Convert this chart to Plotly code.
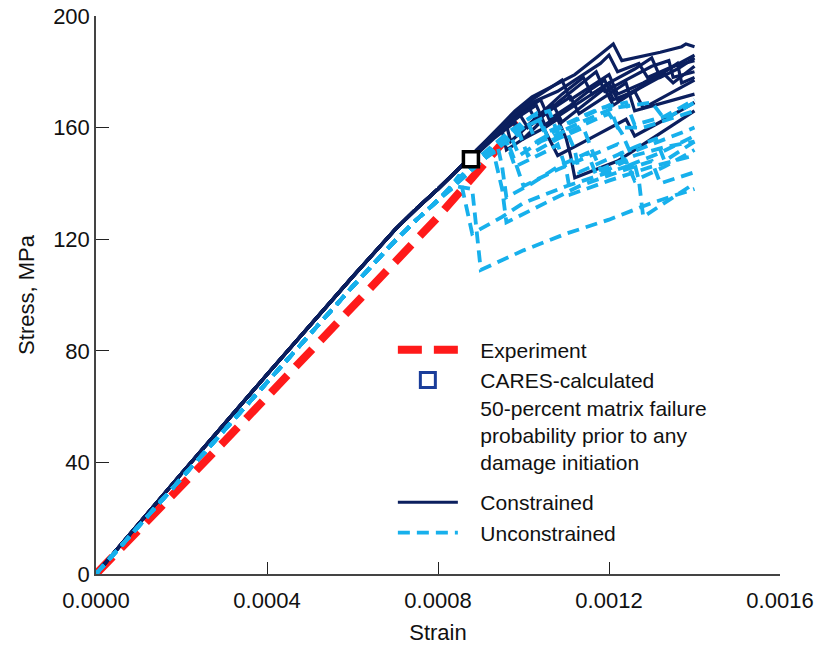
import plotly.graph_objects as go

# ---- Experiment (measured stress-strain response) ----
exp_strain = [0.0, 0.0001, 0.0002, 0.0003, 0.0004, 0.0005, 0.0006, 0.0007, 0.0008, 0.00088, 0.00095, 0.00099]
exp_stress = [0.0, 15.5, 31.5, 47.5, 63.5, 79.5, 95.5, 111.5, 128.0, 142.0, 154.0, 161.5]

# ---- CARES 50-percent matrix failure probability point ----
cares_strain = [0.000877]
cares_stress = [148.7]

# ---- Constrained simulations: shared elastic part, then individual branches ----
con_trunk_strain = [0.0, 0.0002, 0.0004, 0.0006, 0.0007, 0.00075, 0.0008, 0.00085]
con_trunk_stress = [0.0, 36.0, 71.5, 106.5, 123.5, 131.0, 138.0, 145.5]

con_branch_strain = [
    [0.00088, 0.00093, 0.00098, 0.00102, 0.00107, 0.00112, 0.00117, 0.00121, 0.00123, 0.00126, 0.00132, 0.00137, 0.00138, 0.0014],
    [0.00088, 0.00093, 0.00097, 0.00099, 0.00104, 0.00109, 0.00114, 0.00116, 0.0012, 0.00126, 0.0013, 0.00132, 0.00136, 0.0014],
    [0.00088, 0.00092, 0.00096, 0.00097, 0.00102, 0.00107, 0.00109, 0.00114, 0.00119, 0.00121, 0.00127, 0.00133, 0.00135, 0.0014],
    [0.00088, 0.00093, 0.00098, 0.001, 0.00105, 0.00108, 0.0011, 0.00111, 0.00112, 0.00117, 0.00122, 0.00128, 0.00134, 0.0014],
    [0.00089, 0.00095, 0.001, 0.00104, 0.00106, 0.00111, 0.00116, 0.00119, 0.00121, 0.00126, 0.00128, 0.00134, 0.0014],
    [0.00089, 0.00094, 0.00099, 0.00101, 0.00106, 0.00111, 0.00113, 0.00118, 0.00124, 0.00126, 0.00133, 0.0014],
    [0.0009, 0.00096, 0.00101, 0.00103, 0.00108, 0.00113, 0.00117, 0.00119, 0.00125, 0.0013, 0.00134, 0.00135, 0.0014],
    [0.00088, 0.00094, 0.00099, 0.00103, 0.00105, 0.0011, 0.00115, 0.0012, 0.00122, 0.00128, 0.00133, 0.00136, 0.00137, 0.0014],
    [0.00089, 0.00095, 0.001, 0.00105, 0.00109, 0.00111, 0.00116, 0.0012, 0.00122, 0.00128, 0.00134, 0.0014],
    [0.00088, 0.00092, 0.00095, 0.00096, 0.001, 0.00104, 0.00106, 0.00108, 0.00113, 0.00118, 0.00124, 0.00126, 0.00132, 0.0014],
    [0.00089, 0.00094, 0.00098, 0.00102, 0.00108, 0.00113, 0.00118, 0.0012, 0.00122, 0.00127, 0.00129, 0.00135, 0.0014],
]
con_branch_stress = [
    [150, 158, 166, 171, 175, 179, 185, 190, 184, 185, 187, 189, 190, 189],
    [150, 158, 164, 158, 165, 172, 178, 172, 176, 181, 185, 178, 181, 185],
    [149, 155, 161, 155, 162, 168, 162, 168, 174, 168, 174, 179, 176, 182],
    [149, 156, 162, 156, 160, 163, 156, 150, 142, 145, 148, 154, 160, 166],
    [151, 160, 166, 170, 163, 168, 174, 177, 170, 173, 167, 172, 177],
    [151, 159, 165, 160, 166, 171, 165, 170, 176, 166, 169, 172],
    [153, 162, 168, 162, 169, 175, 180, 173, 178, 182, 184, 178, 180],
    [149, 158, 164, 168, 161, 166, 171, 176, 170, 175, 180, 183, 176, 178],
    [152, 161, 168, 173, 177, 170, 175, 179, 172, 176, 181, 186],
    [150, 156, 159, 152, 156, 162, 156, 150, 154, 158, 163, 157, 162, 169],
    [151, 159, 165, 169, 173, 178, 183, 186, 180, 183, 178, 182, 184],
]

# ---- Unconstrained simulations ----
unc_trunk_strain = [0.0, 0.0002, 0.0004, 0.0006, 0.0007, 0.00075, 0.0008]
unc_trunk_stress = [0.0, 34.5, 69.0, 103.0, 119.5, 127.0, 134.0]

unc_branch_strain = [
    [0.00084, 0.00088, 0.00089, 0.0009, 0.001, 0.0011, 0.0012, 0.0013, 0.0014],
    [0.00083, 0.00085, 0.00088, 0.00095, 0.001, 0.0011, 0.0012, 0.00126, 0.00127, 0.00128, 0.00134, 0.0014],
    [0.00085, 0.0009, 0.00093, 0.00095, 0.00096, 0.00105, 0.00113, 0.00122, 0.0013, 0.00132, 0.0014],
    [0.00086, 0.00091, 0.00096, 0.00098, 0.00106, 0.00108, 0.0011, 0.00111, 0.0012, 0.0013, 0.0014],
    [0.00087, 0.00093, 0.00099, 0.00101, 0.00108, 0.00114, 0.00116, 0.00118, 0.00126, 0.00133, 0.0014],
    [0.00088, 0.00094, 0.001, 0.00104, 0.00106, 0.00114, 0.0012, 0.00123, 0.00125, 0.0014],
    [0.00089, 0.00095, 0.00101, 0.00103, 0.0011, 0.00117, 0.0012, 0.00122, 0.00128, 0.00134, 0.0014],
    [0.0009, 0.00096, 0.00102, 0.00106, 0.00108, 0.00115, 0.00121, 0.0013, 0.00133, 0.0014],
    [0.00086, 0.0009, 0.00094, 0.00095, 0.00096, 0.00102, 0.00108, 0.00115, 0.00117, 0.00124, 0.00126, 0.00133, 0.0014],
    [0.00088, 0.00093, 0.00097, 0.00099, 0.00104, 0.0011, 0.00112, 0.00113, 0.0012, 0.00126, 0.00131, 0.00133, 0.0014],
    [0.00087, 0.00092, 0.00096, 0.00098, 0.001, 0.00108, 0.00116, 0.00122, 0.00124, 0.00132, 0.0014],
    [0.0009, 0.00097, 0.00103, 0.00105, 0.00112, 0.00118, 0.00124, 0.00126, 0.00133, 0.0014],
]
unc_branch_stress = [
    [139, 138, 124, 109, 116, 122, 127, 133, 138],
    [139, 143, 122, 128, 133, 139, 144, 147, 141, 128, 134, 140],
    [141, 148, 151, 138, 126, 133, 139, 144, 148, 140, 144],
    [142, 149, 155, 146, 152, 154, 145, 136, 141, 146, 150],
    [144, 152, 158, 150, 156, 160, 152, 145, 150, 153, 155],
    [145, 153, 160, 163, 155, 161, 165, 158, 151, 160],
    [147, 155, 162, 155, 161, 166, 168, 160, 160, 163, 166],
    [149, 157, 164, 166, 158, 163, 167, 169, 163, 169],
    [143, 149, 153, 146, 135, 140, 146, 151, 143, 148, 141, 146, 152],
    [146, 152, 157, 150, 155, 159, 152, 144, 149, 153, 156, 148, 155],
    [145, 151, 156, 148, 139, 145, 150, 154, 146, 151, 157],
    [150, 159, 165, 158, 163, 167, 169, 161, 164, 170],
]

x_ticks = [0.0, 0.0004, 0.0008, 0.0012, 0.0016]
y_ticks = [0, 40, 80, 120, 160, 200]

RED = "#ff1a1a"
NAVY = "#0b1f5e"
SKY = "#17b0ec"
FONT = "Liberation Sans, Arial, sans-serif"
PAD = "\u00a0\u00a0\u00a0"  # gap between legend sample and its label

fig = go.Figure()

fig.add_trace(go.Scatter(
    x=exp_strain, y=exp_stress, mode="lines", name=PAD + "Experiment",
    line=dict(color=RED, width=8, dash="24px,12px"),
    legendgroup="a", legendrank=1,
))

for i, (bs, bv) in enumerate(zip(con_branch_strain, con_branch_stress)):
    fig.add_trace(go.Scatter(
        x=con_trunk_strain + bs, y=con_trunk_stress + bv, mode="lines",
        name=PAD + "Constrained", line=dict(color=NAVY, width=3.2),
        legendgroup="b", showlegend=(i == 0), legendrank=3,
    ))

for i, (bs, bv) in enumerate(zip(unc_branch_strain, unc_branch_stress)):
    fig.add_trace(go.Scatter(
        x=unc_trunk_strain + bs, y=unc_trunk_stress + bv, mode="lines",
        name=PAD + "Unconstrained", line=dict(color=SKY, width=3.8, dash="12px,7px"),
        legendgroup="b", showlegend=(i == 0), legendrank=4,
    ))

fig.add_trace(go.Scatter(
    x=cares_strain, y=cares_stress, mode="markers", showlegend=False,
    marker=dict(symbol="square", size=15, color="white", line=dict(color="black", width=3.5)),
))
# legend entry for the CARES point
cares_label = "<br>".join(PAD + s for s in [
    "CARES-calculated", "50-percent matrix failure",
    "probability prior to any", "damage initiation",
])
fig.add_trace(go.Scatter(
    x=[None], y=[None], mode="markers", name=cares_label,
    marker=dict(symbol="square", size=15, color="white", line=dict(color="#1a3d9a", width=3)),
    legendgroup="a", legendrank=2,
))

axis_common = dict(
    showgrid=False, zeroline=False, showline=True, linecolor="#444", linewidth=1.5,
    ticks="inside", tickcolor="#222", tickwidth=1.2, automargin=False,
    tickfont=dict(family=FONT, size=22, color="#111"),
    title_font=dict(family=FONT, size=22, color="#111"),
)

fig.update_xaxes(range=[0, 0.0016], tickvals=x_ticks, tickformat=".4f", ticklen=12,
                 ticklabelstandoff=6, title_text="Strain", title_standoff=12, **axis_common)
fig.update_yaxes(range=[0, 200], tickvals=y_ticks, ticklen=13,
                 title_text="Stress, MPa", title_standoff=12, **axis_common)

fig.update_layout(
    width=818, height=647,
    margin=dict(l=96, r=38, t=16, b=73),
    plot_bgcolor="white", paper_bgcolor="white",
    font=dict(family=FONT, size=22, color="#111"),
    legend=dict(
        x=0.434, y=0.438, xanchor="left", yanchor="top",
        bgcolor="rgba(0,0,0,0)", itemwidth=60, traceorder="grouped",
        tracegroupgap=10, valign="top", font=dict(family=FONT, size=21, color="#111"),
    ),
)

fig.write_html("out.html")
